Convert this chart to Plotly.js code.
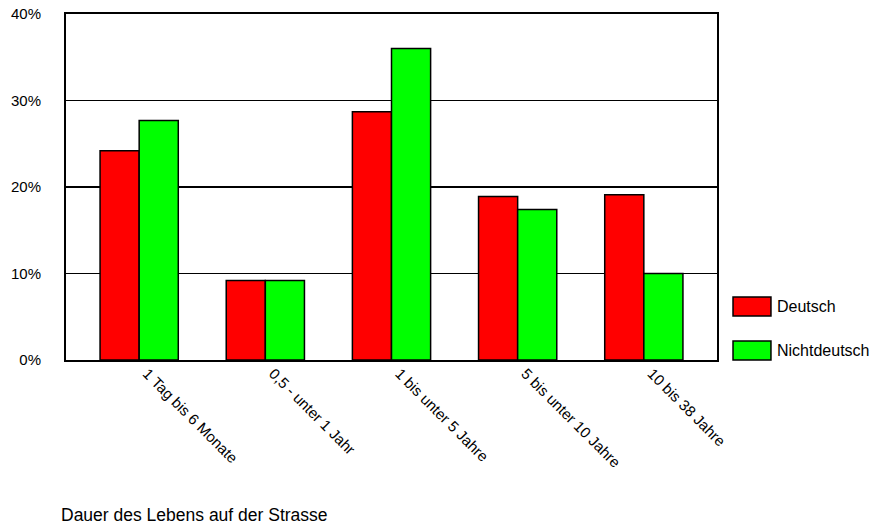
<!DOCTYPE html>
<html>
<head>
<meta charset="utf-8">
<script src="https://cdn.plot.ly/plotly-3.0.1.min.js"></script>
<style>
  html, body { margin: 0; padding: 0; background: #fff; }
  #chart { width: 871px; height: 524px; }
</style>
</head>
<body>
<div id="chart"></div>
<script>
// Dauer des Lebens auf der Strasse – Anteile in Prozent
const categories = [
  "1 Tag bis 6 Monate",
  "0,5 - unter 1 Jahr",
  "1 bis unter 5 Jahre",
  "5 bis unter 10 Jahre",
  "10 bis 38 Jahre"
];
const deutsch = [24.2, 9.2, 28.7, 18.9, 19.1];
const nichtdeutsch = [27.7, 9.2, 36.0, 17.4, 10.0];
const yTickValues = [0, 10, 20, 30, 40];
const yTickLabels = ["0%", "10%", "20%", "30%", "40%"];
const seriesNames = ["Deutsch", "Nichtdeutsch"];
const seriesColors = ["#ff0000", "#00ff00"];

const font = "Liberation Sans, Arial, sans-serif";

const traces = [deutsch, nichtdeutsch].map((vals, i) => ({
  type: "bar",
  name: seriesNames[i],
  x: categories,
  y: vals,
  marker: { color: seriesColors[i], line: { color: "#000", width: 1.5 } },
  showlegend: false,
  hoverinfo: "skip"
}));

// Legend drawn as boxes with labels to the right of the plot
const legendShapes = [];
const legendLabels = [];
const legendRows = [[0.182, 0.127], [0.055, 0.0]];
seriesNames.forEach((name, i) => {
  const [y1, y0] = legendRows[i];
  legendShapes.push({
    type: "rect", xref: "paper", yref: "paper",
    x0: 1.0246, x1: 1.0829, y0: y0, y1: y1,
    fillcolor: seriesColors[i], line: { color: "#000", width: 1.5 }
  });
  legendLabels.push({
    xref: "paper", yref: "paper", x: 1.0885, y: (y0 + y1) / 2,
    xanchor: "left", yanchor: "middle", showarrow: false,
    text: name, font: { family: font, size: 16, color: "#000" }
  });
});

const layout = {
  width: 871,
  height: 524,
  margin: { l: 66, r: 154, t: 14, b: 164 },
  paper_bgcolor: "#fff",
  plot_bgcolor: "#fff",
  barmode: "group",
  bargap: 0.38,
  bargroupgap: 0,
  font: { family: font, size: 15, color: "#000" },
  xaxis: {
    type: "category",
    range: [-0.58, 4.58],
    tickangle: 45,
    ticklabelshift: 8,
    ticklabelstandoff: -3,
    showline: true, mirror: true, linecolor: "#000", linewidth: 2,
    showgrid: false, ticks: "",
    tickfont: { family: font, size: 15, color: "#000" }
  },
  yaxis: {
    range: [0, 40],
    tickvals: yTickValues,
    ticktext: yTickLabels,
    showline: true, mirror: true, linecolor: "#000", linewidth: 2,
    showgrid: true, gridcolor: "#000", gridwidth: 1.5,
    zeroline: false, ticks: "", ticklabelstandoff: 20,
    tickfont: { family: font, size: 15, color: "#000" }
  },
  shapes: legendShapes,
  annotations: legendLabels.concat([{
    xref: "paper", yref: "paper", x: -0.01, y: -0.448,
    xanchor: "left", yanchor: "middle", showarrow: false,
    text: "Dauer des Lebens auf der Strasse",
    font: { family: font, size: 17.5, color: "#000" }
  }])
};

Plotly.newPlot("chart", traces, layout, { displayModeBar: false, staticPlot: true });
</script>
</body>
</html>
